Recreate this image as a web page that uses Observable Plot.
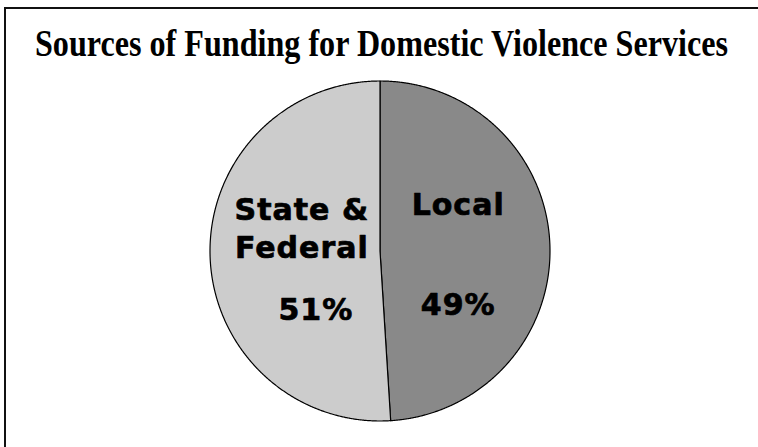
<!DOCTYPE html>
<html>
<head>
<meta charset="utf-8">
<script src="https://cdn.jsdelivr.net/npm/d3@7"></script>
<script src="https://cdn.jsdelivr.net/npm/@observablehq/plot@0.6"></script>
<style>
  html, body { margin: 0; padding: 0; background: #fff; overflow: hidden; }
  #page { position: relative; width: 758px; height: 447px; overflow: hidden; background: #fff; }
  #frame { position: absolute; left: 4px; top: 7px; width: 2000px; height: 2000px; border-top: 2px solid #111; border-left: 2px solid #111; }
  #title { position: relative; height: 75px; }
  #title span { position: absolute; left: 35px; top: 25px; white-space: nowrap; font-family: "Liberation Serif", "Times New Roman", serif; font-weight: bold; font-size: 37px; line-height: 1; color: #000; transform-origin: 0 0; }
  #chart svg { display: block; }
</style>
</head>
<body>
<div id="page">
  <div id="frame"></div>
  <div id="title"><span id="titletext">Sources of Funding for Domestic Violence Services</span></div>
  <div id="chart"></div>
</div>
<script>
const categories = ["Local", "State &\nFederal"];
const values = [49, 51];
const percentLabels = ["49%", "51%"];
const sliceColors = ["#898989", "#cccccc"];

// fit title width
const tt = document.getElementById("titletext");
const w = tt.getBoundingClientRect().width;
tt.style.transform = `scaleX(${693 / w})`;

const W = 758, H = 372;
const cx = 379.5, cy = 175.5, R = 170;

const pie = d3.pie().sort(null)(values);
const slices = pie.map((p, i) => {
  const pts = [{x: 0, y: 0}];
  const n = Math.max(2, Math.ceil((p.endAngle - p.startAngle) / 0.005));
  for (let k = 0; k <= n; k++) {
    const a = p.startAngle + (p.endAngle - p.startAngle) * k / n;
    pts.push({x: Math.sin(a), y: Math.cos(a)});
  }
  return {pts, color: sliceColors[i]};
});

const labelR = 0.46;
const labels = pie.map((p, i) => {
  const m = (p.startAngle + p.endAngle) / 2;
  return {x: Math.sin(m) * labelR, y: Math.cos(m) * labelR, name: categories[i], pct: percentLabels[i], i};
});

const textStyle = {fontSize: 30, fontWeight: "bold", fontFamily: "DejaVu Sans", fill: "#000", stroke: "#000", strokeWidth: 0.7, lineAnchor: "top", lineHeight: 1.25};

const chart = Plot.plot({
  width: W,
  height: H,
  margin: 0,
  x: {domain: [-1, 1], range: [cx - R, cx + R], axis: null},
  y: {domain: [-1, 1], range: [cy + R, cy - R], axis: null},
  marks: [
    ...slices.map(s => Plot.line(s.pts, {x: "x", y: "y", fill: s.color, stroke: "#000", strokeWidth: 1.2, curve: "linear-closed"})),
    Plot.text(labels, {x: "x", y: "y", text: "name", dy: -60, ...textStyle}),
    Plot.text(labels.filter(d => d.i === 0), {x: "x", y: "y", text: "pct", dy: 40, ...textStyle}),
    Plot.text(labels.filter(d => d.i === 1), {x: "x", y: "y", text: "pct", dy: 40, dx: 14, ...textStyle})
  ]
});
chart.querySelectorAll("text").forEach(t => t.setAttribute("letter-spacing", "1"));
document.getElementById("chart").appendChild(chart);
</script>
</body>
</html>
